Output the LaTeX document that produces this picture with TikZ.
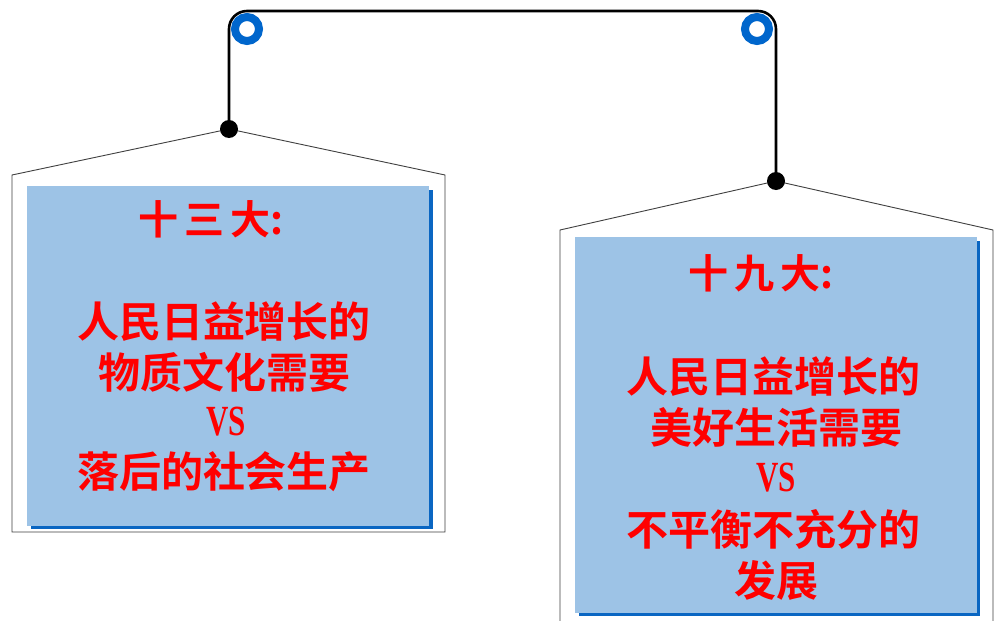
\documentclass[tikz,border=0pt]{standalone}
\usepackage{fontspec}
\newfontfamily\cjk{Noto Sans CJK SC Bold}
\newfontfamily\vsfont{Liberation Serif Bold}
\newcommand{\vstext}{\scalebox{0.72}[1]{VS}}
\definecolor{signblue}{HTML}{9DC3E6}
\definecolor{shadowblue}{HTML}{0A66C2}
\definecolor{ringblue}{HTML}{0066CC}
\definecolor{txtred}{HTML}{FF0000}
\begin{document}
\begin{tikzpicture}[x=1pt,y=-1pt,
  frame/.style={draw=black!75,line width=0.9pt},
  hanger/.style={draw=black,line width=2.6pt,rounded corners=18pt},
  ring/.style={draw=ringblue,line width=8pt},
  knot/.style={fill=black},
  signfill/.style={fill=signblue},
  signshadow/.style={fill=shadowblue},
  ttl/.style={text=txtred,font=\cjk\fontsize{40}{50}\selectfont,inner sep=0pt},
  body/.style={text=txtred,font=\cjk\fontsize{42}{50}\selectfont,align=center,inner sep=0pt},
  vs/.style={text=txtred,font=\vsfont\fontsize{43}{45}\selectfont,inner sep=0pt}]
\useasboundingbox (0,0) rectangle (1002,621);
\fill[white] (0,0) rectangle (1002,621);
% anchor points
\coordinate (lapex) at (229,129);
\coordinate (rapex) at (776,181);
\coordinate (ltop) at (229,11);
\coordinate (rtop) at (776,11);
% frames
\draw[frame] (12,532) -- (12,175) -- (lapex) -- (445,175) -- (445,532) -- cycle;
\draw[frame] (560,621) -- (560,230) -- (rapex) -- (993,230) -- (993,621);
% sign panels
\fill[signshadow] (31,190) rectangle (433,529);
\fill[signfill] (27,186) rectangle (429,526);
\fill[signshadow] (579,241) rectangle (980,616);
\fill[signfill] (575,237) rectangle (977,613);
% hanger
\draw[hanger] (lapex) -- (ltop) -- (rtop) -- (rapex);
\draw[ring] (247,29) circle (12);
\draw[ring] (757,29) circle (12);
\fill[knot] (lapex) circle (9);
\fill[knot] (rapex) circle (9);
% left texts
\node[ttl] (lt) at (211,219) {十\hspace{6pt}三\hspace{6pt}大:};
\node[body] (l1) at (224,322) {人民日益增长的};
\node[body] (l2) at (224,372) {物质文化需要};
\node[vs] (l3) at (226,422) {\vstext};
\node[body] (l4) at (224,472) {落后的社会生产};
% right texts
\node[ttl] (rt) at (761,273) {十\hspace{6pt}九\hspace{6pt}大:};
\node[body] (r1) at (773,377) {人民日益增长的};
\node[body] (r2) at (776,427) {美好生活需要};
\node[vs] (r3) at (776,478) {\vstext};
\node[body] (r4) at (773,529) {不平衡不充分的};
\node[body] (r5) at (776,581) {发展};
\end{tikzpicture}
\end{document}
